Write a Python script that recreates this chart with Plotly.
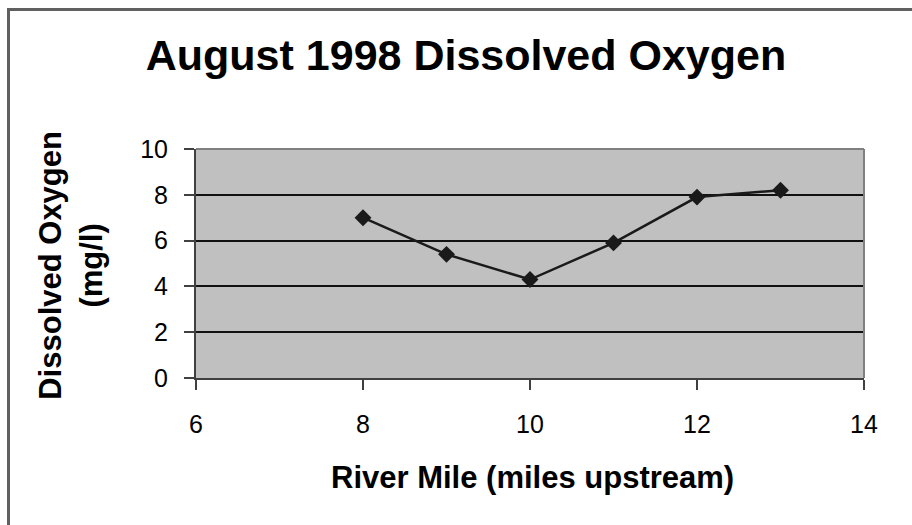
import plotly.graph_objects as go

river_mile = [8, 9, 10, 11, 12, 13]
dissolved_oxygen = [7.0, 5.4, 4.3, 5.9, 7.9, 8.2]

x_tick_vals = [6, 8, 10, 12, 14]
y_tick_vals = [0, 2, 4, 6, 8, 10]

title_text = "August 1998 Dissolved Oxygen"
x_title = "River Mile (miles upstream)"
y_title = "Dissolved Oxygen<br>(mg/l)"

FONT = "Liberation Sans, Arial, sans-serif"

fig = go.Figure()
fig.add_trace(go.Scatter(
    x=river_mile, y=dissolved_oxygen, mode="lines+markers",
    line=dict(color="#1a1a1a", width=2.5),
    marker=dict(symbol="diamond", size=13, color="#1a1a1a"),
    showlegend=False, cliponaxis=False,
))

fig.update_layout(
    width=912, height=525, autosize=False,
    margin=dict(l=196, r=48, t=149, b=147),
    paper_bgcolor="white", plot_bgcolor="#c0c0c0",
    font=dict(family=FONT, color="black"),
    title=dict(text=title_text, x=466/912, xanchor="center", xref="container",
               y=1 - 55/525, yanchor="middle", yref="container",
               font=dict(family=FONT, size=43, weight="bold", color="black")),
    xaxis=dict(range=[6, 14], tickvals=x_tick_vals, showgrid=False, zeroline=False,
               showline=True, linecolor="#404040", linewidth=2,
               ticks="outside", ticklen=10, tickwidth=1.5, tickcolor="#404040",
               ticklabelstandoff=13, tickfont=dict(size=25, family=FONT, color="black")),
    yaxis=dict(range=[0, 10], tickvals=y_tick_vals, showgrid=True, gridcolor="#111111",
               gridwidth=1.5, zeroline=False,
               showline=True, linecolor="#404040", linewidth=2,
               ticks="outside", ticklen=10, tickwidth=1.5, tickcolor="#404040",
               ticklabelstandoff=11, tickfont=dict(size=25, family=FONT, color="black")),
    shapes=[
        dict(type="line", xref="paper", yref="paper", x0=0, x1=1, y0=1, y1=1,
             line=dict(color="#808080", width=2)),
        dict(type="line", xref="paper", yref="paper", x0=1, x1=1, y0=0, y1=1,
             line=dict(color="#808080", width=2)),
        dict(type="rect", xref="paper", yref="paper",
             x0=(8.5 - 196) / 668, x1=2, y0=-2, y1=(378 - 9.5) / 229,
             line=dict(color="#606060", width=3)),
    ],
    annotations=[
        dict(text=x_title, xref="paper", yref="paper", x=(532 - 196) / 668,
             y=(378 - 477) / 229, xanchor="center", yanchor="middle", showarrow=False,
             font=dict(family=FONT, size=31, weight="bold", color="black")),
        dict(text=y_title, xref="paper", yref="paper", x=(71 - 196) / 668,
             y=0.49, xanchor="center", yanchor="middle", showarrow=False,
             textangle=-90,
             font=dict(family=FONT, size=31, weight="bold", color="black")),
    ],
)

fig.write_html("out.html", config={"displayModeBar": False},
               post_script="document.body.style.margin='0';")
